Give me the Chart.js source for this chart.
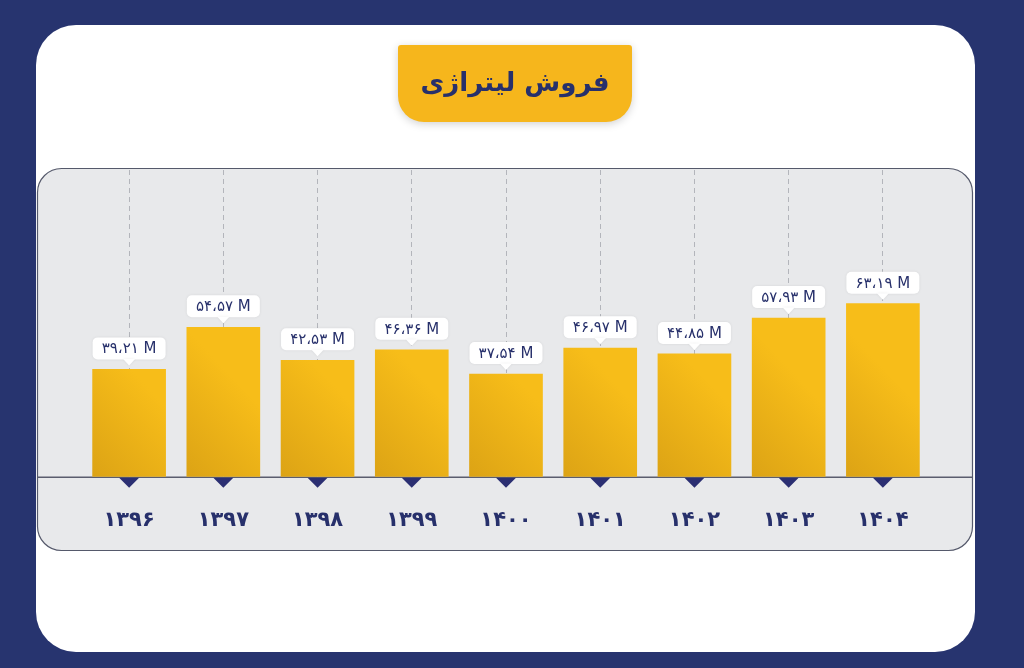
<!DOCTYPE html>
<html lang="fa">
<head>
<meta charset="utf-8">
<script src="https://cdn.jsdelivr.net/npm/chart.js@4"></script>
<style>
  html, body { margin: 0; padding: 0; background: #27346f; }
  canvas { display: block; }
</style>
</head>
<body>
<canvas id="barChart" width="1024" height="668"></canvas>
<script>
// data (million litres)
var years = ['۱۳۹۶', '۱۳۹۷', '۱۳۹۸', '۱۳۹۹', '۱۴۰۰', '۱۴۰۱', '۱۴۰۲', '۱۴۰۳', '۱۴۰۴'];
var sales = [39.21, 54.57, 42.53, 46.36, 37.54, 46.97, 44.85, 57.93, 63.19];
var chartTitle = 'فروش لیتراژی';

var NAVY = '#27306b';
var FONT = '"DejaVu Sans", "Noto Sans", sans-serif';

function faDigits(s) {
    return s.replace(/\d/g, function (d) { return '۰۱۲۳۴۵۶۷۸۹'[d]; });
}

function rrect(ctx, x, y, w, h, r) {
    ctx.beginPath();
    ctx.roundRect(x, y, w, h, r);
}

var decoPlugin = {
    id: 'deco',
    beforeDraw: function (chart) {
        var ctx = chart.ctx;
        var area = chart.chartArea;
        ctx.save();
        // navy page
        ctx.fillStyle = '#27346f';
        ctx.fillRect(0, 0, chart.width, chart.height);
        // white card
        ctx.fillStyle = '#ffffff';
        rrect(ctx, 36, 25, 939, 627, 40);
        ctx.fill();
        // grey panel
        ctx.fillStyle = '#e8e9eb';
        ctx.strokeStyle = '#55596b';
        ctx.lineWidth = 1.2;
        rrect(ctx, 37.5, 168.5, 935, 382, 24);
        ctx.fill();
        ctx.stroke();
        // title box
        ctx.shadowColor = 'rgba(0,0,0,0.18)';
        ctx.shadowBlur = 8;
        ctx.shadowOffsetY = 2;
        ctx.fillStyle = '#f6b61c';
        rrect(ctx, 398, 45, 234, 77, [3, 3, 26, 26]);
        ctx.fill();
        ctx.shadowColor = 'transparent';
        ctx.fillStyle = NAVY;
        ctx.font = 'bold 26px ' + FONT;
        ctx.textAlign = 'center';
        ctx.textBaseline = 'middle';
        ctx.direction = 'rtl';
        ctx.fillText(chartTitle, 515, 84);
        ctx.direction = 'ltr';
        // baseline
        ctx.strokeStyle = '#5a5d6e';
        ctx.lineWidth = 1.5;
        ctx.beginPath();
        ctx.moveTo(38, area.bottom + 0.5);
        ctx.lineTo(972, area.bottom + 0.5);
        ctx.stroke();
        ctx.restore();
    },
    afterDatasetsDraw: function (chart) {
        var ctx = chart.ctx;
        var meta = chart.getDatasetMeta(0);
        var area = chart.chartArea;
        ctx.save();
        meta.data.forEach(function (bar, i) {
            // triangle under the baseline
            ctx.fillStyle = '#2b2f72';
            ctx.beginPath();
            ctx.moveTo(bar.x - 10, area.bottom + 1);
            ctx.lineTo(bar.x + 10, area.bottom + 1);
            ctx.lineTo(bar.x, area.bottom + 11);
            ctx.closePath();
            ctx.fill();

            // value bubble
            var w = bar.width, h = 22;
            var tip = bar.y - 4;
            var top = tip - 6 - h;
            ctx.shadowColor = 'rgba(0,0,0,0.08)';
            ctx.shadowBlur = 3;
            ctx.fillStyle = '#ffffff';
            rrect(ctx, bar.x - w / 2, top, w, h, 5);
            ctx.fill();
            ctx.beginPath();
            ctx.moveTo(bar.x - 6, top + h - 0.5);
            ctx.lineTo(bar.x + 6, top + h - 0.5);
            ctx.lineTo(bar.x, tip);
            ctx.closePath();
            ctx.fill();
            ctx.shadowColor = 'transparent';

            var txt = faDigits(sales[i].toFixed(2)).replace('.', '،') + ' M';
            ctx.fillStyle = NAVY;
            ctx.font = '15px ' + FONT;
            ctx.textAlign = 'center';
            ctx.textBaseline = 'middle';
            ctx.fillText(txt, bar.x, top + h / 2 + 1);
        });
        ctx.restore();
    }
};

var ctx = document.getElementById('barChart').getContext('2d');

var myChart = new Chart(ctx, {
    type: 'bar',
    data: {
        labels: years,
        datasets: [{
            data: sales,
            backgroundColor: function (c) {
                var chart = c.chart;
                var area = chart.chartArea;
                if (!area || !chart.scales.x || !chart.scales.y) return '#f0b418';
                var x = chart.scales.x.getPixelForValue(c.dataIndex);
                if (!isFinite(x)) return '#f0b418';
                // mostly left-to-right shading, slightly lifted toward the top
                var g = chart.ctx.createLinearGradient(x - 37, area.bottom, x + 37, area.bottom - 70);
                g.addColorStop(0, '#dca315');
                g.addColorStop(1, '#f7bd19');
                return g;
            },
            borderWidth: 0,
            barThickness: 73
        }]
    },
    options: {
        responsive: false,
        animation: false,
        layout: {
            padding: { top: 170, left: 82, right: 94, bottom: 104 }
        },
        plugins: {
            legend: { display: false },
            tooltip: { enabled: false }
        },
        scales: {
            x: {
                offset: true,
                grid: {
                    offset: false,
                    drawTicks: false,
                    color: '#b3b5bb',
                    lineWidth: 1
                },
                border: { display: false, dash: [5, 4] },
                ticks: {
                    padding: 31,
                    color: NAVY,
                    font: { family: FONT, size: 21, weight: 'bold' }
                }
            },
            y: {
                display: false,
                min: 0,
                max: 112
            }
        }
    },
    plugins: [decoPlugin]
});
</script>
</body>
</html>
